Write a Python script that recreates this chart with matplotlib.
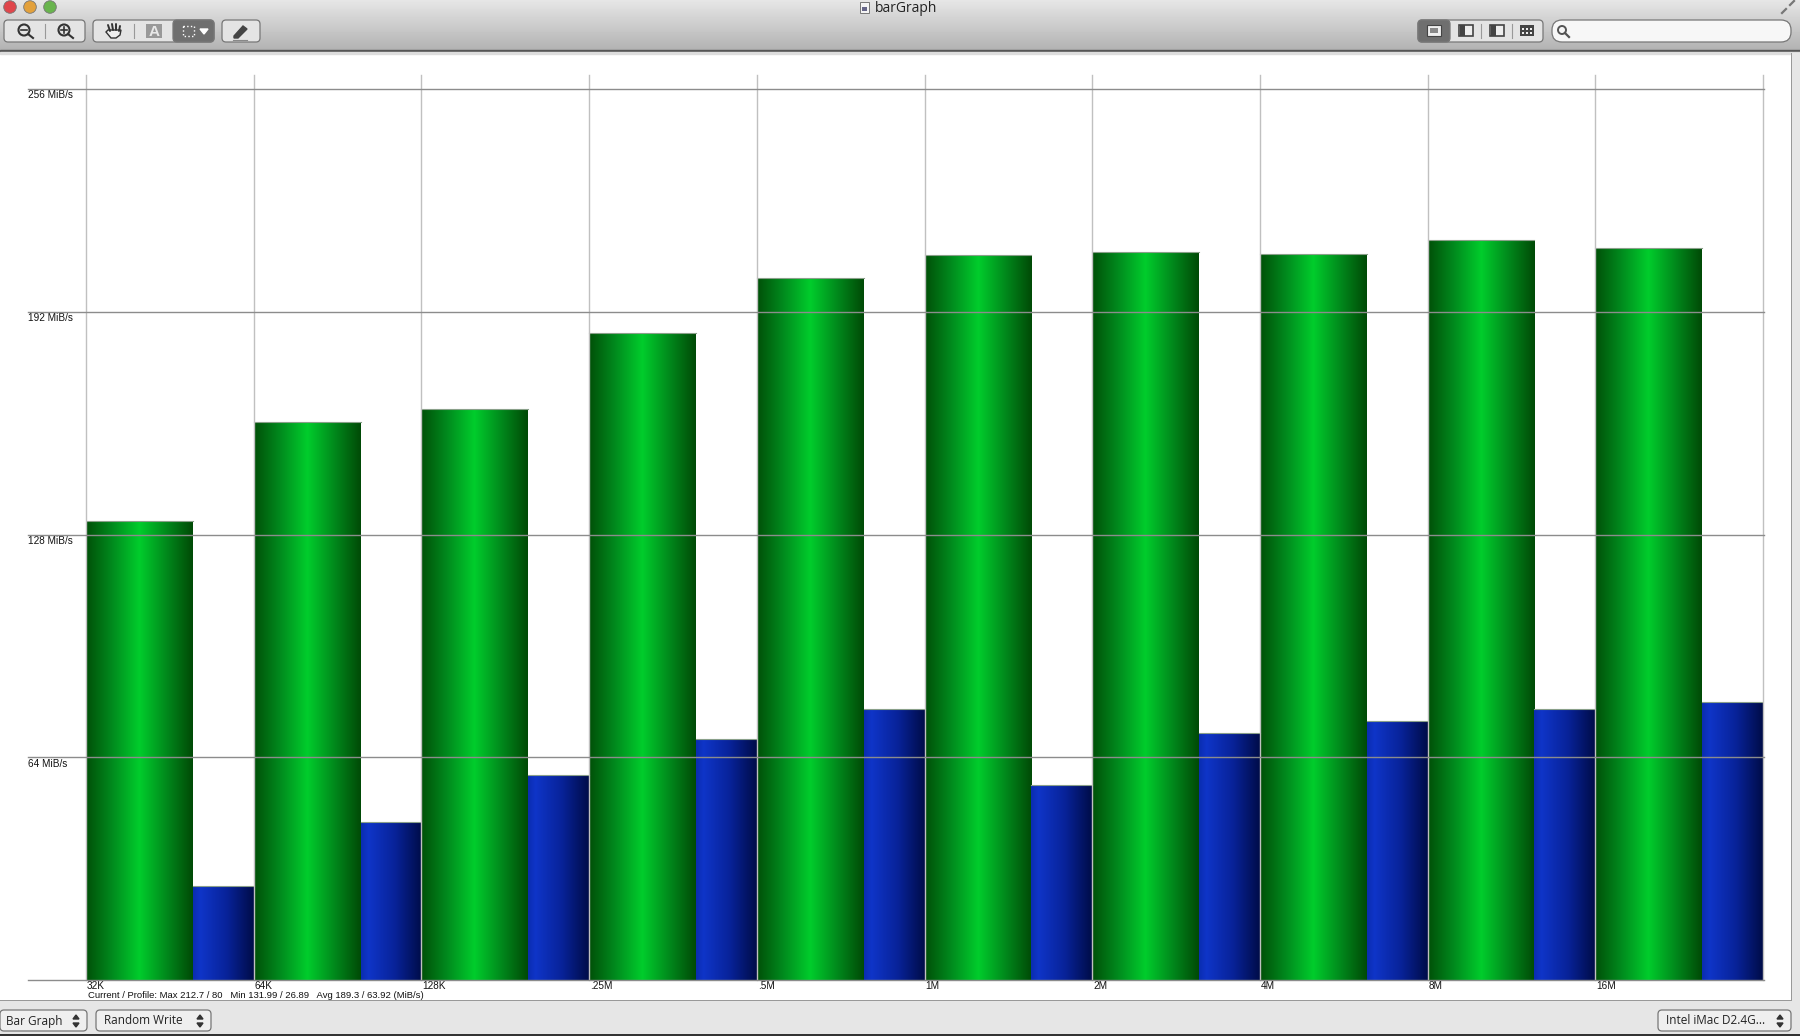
import numpy as np
import matplotlib
matplotlib.use('Agg')
import matplotlib.pyplot as plt
from matplotlib.colors import LinearSegmentedColormap
from matplotlib.patches import FancyBboxPatch, Circle, Rectangle
from matplotlib.transforms import ScaledTranslation

plt.rcParams['font.family'] = ['Liberation Sans', 'DejaVu Sans']

block_sizes = ['32K', '64K', '128K', '.25M', '.5M', '1M', '2M', '4M', '8M', '16M']
current = [131.99, 160.3, 164.0, 185.8, 201.6, 208.2, 209.2, 208.5, 212.7, 210.2]
profile = [26.89, 45.5, 59.0, 69.3, 77.9, 56.0, 71.0, 74.3, 78.0, 80.0]
y_ticks = [64, 128, 192, 256]
y_labels = ['64 MiB/s', '128 MiB/s', '192 MiB/s', '256 MiB/s']
status = 'Current / Profile: Max 212.7 / 80   Min 131.99 / 26.89   Avg 189.3 / 63.92 (MiB/s)'

W, H = 1800, 1036
fig = plt.figure(figsize=(W / 100, H / 100), dpi=100, facecolor='white')

# window chrome, in pixel coordinates
bg = fig.add_axes([0, 0, 1, 1], zorder=0)
bg.set_xlim(0, W)
bg.set_ylim(H, 0)
bg.axis('off')

toolbar = np.linspace(0.90, 0.70, 50).reshape(-1, 1)
bg.imshow(toolbar, extent=(0, W, 50, 0), cmap='gray', vmin=0, vmax=1, aspect='auto')
bg.set_xlim(0, W)
bg.set_ylim(H, 0)
bg.add_patch(Rectangle((0, 50), W, 1.5, color='#555555'))
bg.add_patch(Rectangle((0, 51.5), W, 2, color='#dddddd'))
bg.add_patch(Rectangle((0, 1001), W, 33, color='#e6e6e6', lw=0))
bg.add_patch(Rectangle((0, 1000), 1792, 1.2, color='#999999', lw=0))
bg.add_patch(Rectangle((1791, 53), 9, 948, color='#e6e6e6', lw=0))
bg.add_patch(Rectangle((1791, 53), 1, 948, color='#999999', lw=0))
bg.add_patch(Rectangle((0, 1034), W, 2, color='#333333', lw=0))


def button(x0, x1, y0, y1, face='#e4e4e4', radius=4):
    bg.add_patch(FancyBboxPatch((x0 + radius, y0 + radius), x1 - x0 - 2 * radius, y1 - y0 - 2 * radius,
                                boxstyle='round,pad=%d' % radius, fc=face, ec='#777777', lw=0.9))


for cx, col in [(10, '#e0474c'), (30, '#e3a13c'), (50, '#69b44e')]:
    bg.add_patch(Circle((cx, 7), 6.3, fc=col, ec='#777777', lw=0.6))

button(4, 85, 20, 42)
button(93, 214, 20, 42)
button(173, 214, 20, 42, face='#6f6f6f')
button(222, 260, 20, 42)
button(1418, 1543, 20, 42)
button(1418, 1450, 20, 42, face='#6f6f6f')
button(1552, 1791, 20, 42, face='#f7f7f7', radius=10)

# toolbar glyphs
for cx in [24, 64]:
    bg.add_patch(Circle((cx, 30), 5.5, fc='none', ec='#333333', lw=1.5))
    bg.plot([cx + 4, cx + 9], [34, 38], color='#333333', lw=1.5)
    bg.plot([cx - 3, cx + 3], [30, 30], color='#333333', lw=1.2)
bg.plot([64, 64], [27, 33], color='#333333', lw=1.2)
bg.plot([44.5, 44.5], [24, 38], color='#999999', lw=0.8)
bg.plot([133.5, 133.5], [24, 38], color='#999999', lw=0.8)
bg.add_patch(Rectangle((146, 24), 16, 14, color='#999999', lw=0))
bg.text(154, 31.5, 'A', color='#e8e8e8', fontsize=11, fontweight='bold', ha='center', va='center')
# hand
for x0, y0, x1, y1 in [(110, 31, 108, 25), (113, 30, 112, 24), (116, 30, 116, 24), (119, 31, 120, 26)]:
    bg.plot([x0, x1], [y0, y1], color='#333333', lw=1.4, solid_capstyle='round')
bg.fill([108, 121, 120, 116, 111, 106], [30, 30, 35, 38, 38, 32], fc='#eeeeee', ec='#333333', lw=1)
bg.add_patch(Rectangle((183, 26), 11, 10, fc='none', ec='white', lw=1, ls=':'))
bg.fill([200, 208, 204], [29, 29, 34], color='white')
bg.fill([234, 243, 247, 238, 234], [36, 26, 29, 38, 38], color='#444444')
bg.plot([233, 247], [39.5, 39.5], color='#888888', lw=0.8)
# view buttons
bg.add_patch(Rectangle((1427, 25), 14, 11, fc='#eeeeee', ec='#444444', lw=0.8))
bg.add_patch(Rectangle((1430, 28), 8, 5, color='#888888', lw=0))
for x0, x1 in [(1459, 1473), (1490, 1504)]:
    bg.add_patch(Rectangle((x0, 25), x1 - x0, 11, fc='#eeeeee', ec='#444444', lw=1.2))
bg.add_patch(Rectangle((1460, 25), 5, 11, color='#444444', lw=0))
bg.add_patch(Rectangle((1491, 25), 5, 11, color='#444444', lw=0))
bg.add_patch(Rectangle((1520, 25), 14, 11, color='#444444', lw=0))
for gx in [1523, 1527, 1531]:
    for gy in [29, 33]:
        bg.add_patch(Rectangle((gx - 1, gy - 1), 2, 2, color='#eeeeee', lw=0))
bg.plot([1480.5, 1480.5], [24, 38], color='#999999', lw=0.8)
bg.plot([1511.5, 1511.5], [24, 38], color='#999999', lw=0.8)
bg.add_patch(Circle((1562, 30), 4, fc='none', ec='#555555', lw=1.4))
bg.plot([1565, 1569], [33, 37], color='#555555', lw=1.6)
bg.plot([1782, 1786], [13, 9], color='#777777', lw=1.6)
bg.plot([1790, 1794], [5, 1], color='#777777', lw=1.6)

bg.add_patch(Rectangle((860, 2), 9, 11, fc='#f4f4f4', ec='#777777', lw=0.7))
bg.add_patch(Rectangle((862, 7), 5, 4, color='#666688', lw=0))
bg.text(875, 8, 'barGraph', color='#222222', fontsize=10, ha='left', va='center', family=['Open Sans'])

# bottom popups
for x0, x1, label in [(0, 87, 'Bar Graph'), (96, 211, 'Random Write'), (1658, 1791, 'Intel iMac D2.4G...')]:
    button(x0, x1, 1010, 1031, face='#efefef')
    bg.text(x0 + (6 if x0 == 0 else 8), 1021, label, color='#222222', fontsize=8.5, va='center', family=['Open Sans'])
    bg.fill([x1 - 14, x1 - 8, x1 - 11], [1019, 1019, 1015], color='#333333')
    bg.fill([x1 - 14, x1 - 8, x1 - 11], [1023, 1023, 1027], color='#333333')

# the chart itself: 86..1763 px wide, value 0 at y=980, value 256 at y=89
px_per_unit = (980 - 89) / 256
y_top = (980 - 75) / px_per_unit
ax = fig.add_axes([86 / W, 1 - 980 / H, (1763 - 86) / W, (980 - 75) / H], zorder=1)
ax.patch.set_alpha(0)
for s in ax.spines.values():
    s.set_visible(False)

green_cmap = LinearSegmentedColormap.from_list('green', [(0, '#005008'), (0.25, '#008c1e'), (0.5, '#00cd2c'),
                                                         (0.75, '#008a1c'), (1, '#004a06')])
blue_cmap = LinearSegmentedColormap.from_list('blue', [(0, '#0a2db0'), (0.12, '#0f35c8'), (0.55, '#08239a'),
                                                       (1, '#000c48')])
gradient = np.linspace(0, 1, 256).reshape(1, -1)

x_pos = np.arange(len(block_sizes))
green_w = 0.637
blue_w = 0.363
green_bars = ax.bar(x_pos, current, width=green_w, align='edge', color='#00a020', zorder=2)
blue_bars = ax.bar(x_pos + green_w, profile, width=blue_w, align='edge', color='#0a2a90', zorder=2)
for bars, cmap in [(green_bars, green_cmap), (blue_bars, blue_cmap)]:
    for b in bars:
        im = ax.imshow(gradient, extent=(b.get_x(), b.get_x() + b.get_width(), 0, b.get_height()),
                       cmap=cmap, aspect='auto', zorder=3, interpolation='bilinear')
        im.set_clip_path(b)
        ax.plot([b.get_x(), b.get_x() + b.get_width()], [b.get_height()] * 2, color='#8aa08a', lw=0.8, zorder=3.5)

ax.set_xlim(0, len(block_sizes))
ax.set_ylim(0, y_top)

# grid runs past the plot on the left, over the bars
left = -58 / (1763 - 86)
right = 1 + 1 / (1763 - 86)
for v in [0] + y_ticks:
    ax.axhline(v, xmin=left, xmax=right, color='#8c8c8c', lw=1, zorder=5, clip_on=False)
for i in list(x_pos) + [len(block_sizes)]:
    ax.axvline(i, color='#c0c0c0', lw=1, zorder=4, clip_on=False)

ax.set_xticks(x_pos, block_sizes, fontsize=7.2, ha='left', color='#111111')
ax.set_yticks(y_ticks, y_labels, fontsize=7.2, ha='left', va='top', color='#111111')
ax.tick_params(axis='x', length=0, pad=0.5)
ax.tick_params(axis='y', length=0, pad=41.5)
shift = ScaledTranslation(1 / 100, 0, fig.dpi_scale_trans)
for lab in ax.get_xticklabels():
    lab.set_transform(lab.get_transform() + shift)
down = ScaledTranslation(0, -1.5 / 100, fig.dpi_scale_trans)
for lab in ax.get_yticklabels():
    lab.set_transform(lab.get_transform() + down)

ax.text(88 / W, 1 - 996 / H, status, transform=fig.transFigure, fontsize=6.8, color='#111111', va='center')

fig.savefig('out.png', dpi=100)
